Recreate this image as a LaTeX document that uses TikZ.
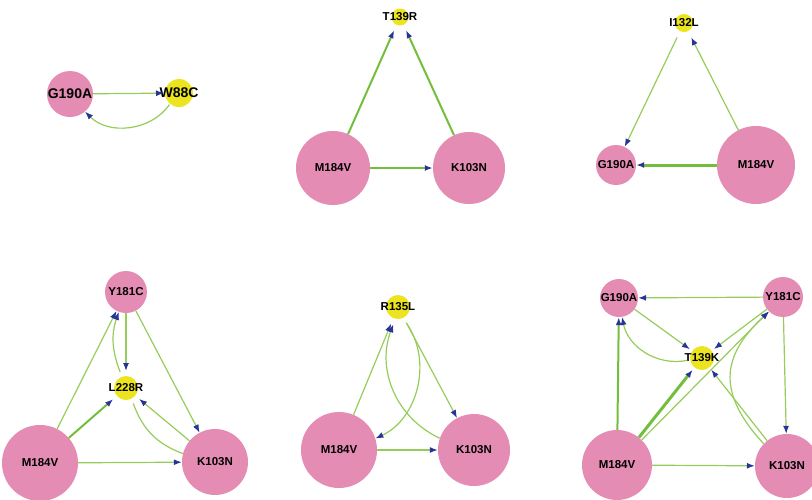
\documentclass[tikz,border=0pt]{standalone}
\usepackage{fontspec}
\setmainfont{Liberation Sans}
\usetikzlibrary{arrows.meta}
\definecolor{pinkc}{RGB}{228,140,180}
\definecolor{yellc}{RGB}{236,228,30}
\definecolor{edgec}{RGB}{150,205,90}
\definecolor{edgeth}{RGB}{115,190,60}
\definecolor{arrc}{RGB}{40,52,150}
\tikzset{
  pk/.style={circle,fill=pinkc,inner sep=0pt,minimum size=#1},
  yl/.style={circle,fill=yellc,inner sep=0pt,minimum size=#1,outer sep=5pt},
  lab/.style={font=\fontsize{11.5}{13}\selectfont\bfseries,text=black},
  labbig/.style={font=\fontsize{14}{16}\selectfont\bfseries,text=black},
  e/.style={draw=edgec,line width=1.2pt,-{Latex[length=8pt,width=6pt,color=arrc]}},
  em/.style={e,line width=2pt,draw=edgeth},
  et/.style={e,line width=3pt,draw=edgeth},
  en/.style={draw=edgec,line width=1.2pt},
}
\begin{document}
\begin{tikzpicture}[x=1pt,y=-1pt]
\path[use as bounding box] (0,0) rectangle (812,499);
\clip (0,0) rectangle (812,499);

% Panel 1
\node[pk=46,label={[labbig]center:G190A}] (g1) at (70,94) {};
\node[yl=28,outer sep=1pt,label={[labbig]center:W88C}] (w1) at (179,93) {};
\draw[e] (g1) -- (w1);
\draw[e] (w1) to[bend left=50] (g1);

% Panel 2
\node[yl=17,outer sep=6pt,label={[lab]center:T139R}] (t2) at (400,17) {};
\node[pk=74,label={[lab]center:M184V}] (m2) at (333,168) {};
\node[pk=72,label={[lab]center:K103N}] (k2) at (469,168) {};
\draw[em] (m2) -- (t2);
\draw[em] (k2) -- (t2);
\draw[em] (m2) -- (k2);

% Panel 3
\node[yl=18,outer sep=7pt,label={[lab]center:I132L}] (i3) at (684,23) {};
\node[pk=40,label={[lab]center:G190A}] (g3) at (616,165) {};
\node[pk=78,label={[lab]center:M184V}] (m3) at (756,165) {};
\draw[e] (i3) -- (g3);
\draw[e] (m3) -- (i3);
\draw[et] (m3) -- (g3);

% Panel 4
\node[pk=42,label={[lab]center:Y181C}] (y4) at (126,292) {};
\node[yl=24,outer sep=5pt,label={[lab]center:L228R}] (l4) at (126,388) {};
\node[pk=76,label={[lab]center:M184V}] (m4) at (40,463) {};
\node[pk=66,label={[lab]center:K103N}] (k4) at (215,462) {};
\draw[e] (m4) -- (y4);
\draw[e] (y4) -- (l4);
\draw[e] (l4) to[bend left=20] (y4);
\draw[e] (y4) -- (k4);
\draw[em] (m4) -- (l4);
\draw[e] (k4) -- (l4);
\draw[en] (l4) to[bend right=25] (k4);
\draw[e] (m4) -- (k4);

% Panel 5
\node[yl=24,outer sep=6pt,label={[lab]center:R135L}] (r5) at (398,307) {};
\node[pk=76,label={[lab]center:M184V}] (m5) at (339,450) {};
\node[pk=72,label={[lab]center:K103N}] (k5) at (474,450) {};
\draw[e] (m5) -- (r5);
\draw[e] (k5) to[bend left=43] (r5);
\draw[e] (r5) to[bend left=50] (m5);
\draw[e] (r5) -- (k5);
\draw[e] (m5) -- (k5);

% Panel 6
\node[pk=38,label={[lab]center:G190A}] (g6) at (619,298) {};
\node[pk=40,label={[lab]center:Y181C}] (y6) at (783,297) {};
\node[yl=24,outer sep=3pt,label={[lab]center:T139K}] (t6) at (702,358) {};
\node[pk=70,label={[lab]center:M184V}] (m6) at (617,465) {};
\node[pk=64,label={[lab]center:K103N}] (k6) at (787,466) {};
\draw[e] (y6) -- (g6);
\draw[e] (g6) -- (t6);
\draw[e] (t6) to[bend left=45] (g6);
\draw[em] (m6) -- (g6);
\draw[e] (y6) -- (t6);
\draw[et] (m6) -- (t6);
\draw[e] (m6) -- (y6);
\draw[e] (k6) to[bend left=45,looseness=1.3] (y6);
\draw[e] (y6) -- (k6);
\draw[e] (k6) -- (t6);
\draw[e] (m6) -- (k6);
\end{tikzpicture}
\end{document}
